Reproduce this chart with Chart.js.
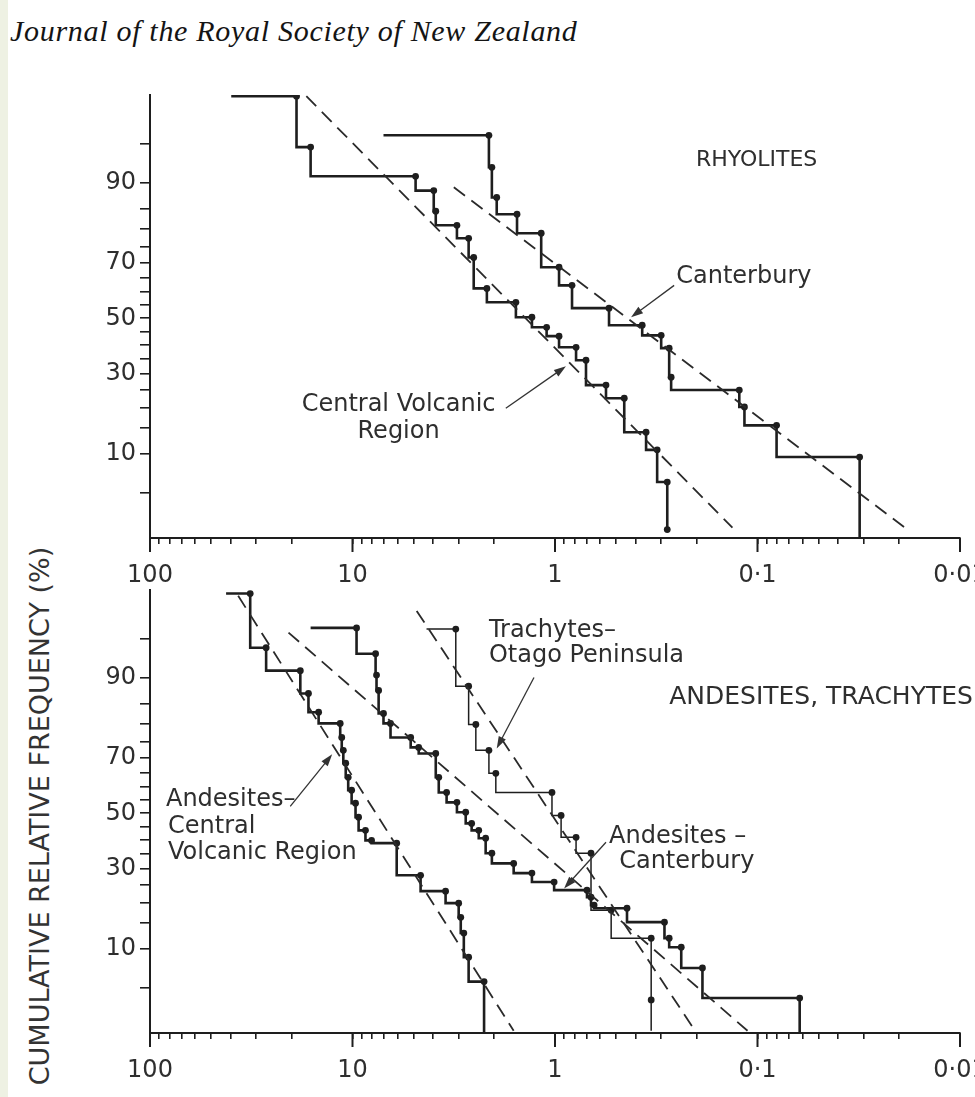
<!DOCTYPE html>
<html>
<head>
<meta charset="utf-8">
<script src="https://cdn.jsdelivr.net/npm/chart.js@4.4.1/dist/chart.umd.min.js"></script>
<style>
html, body { margin: 0; padding: 0; background: #fff; overflow: hidden; width: 975px; height: 1097px; }
#edge { position: absolute; left: 0; top: 0; width: 8px; height: 1097px; background: #eef1e3; }
#journal { position: absolute; left: 10px; top: 14px; font: italic 30px "Liberation Serif", serif; color: #141414; white-space: nowrap; letter-spacing: 0.7px; }
#ytitle { position: absolute; left: 39px; top: 816px; transform: translate(-50%, -50%) rotate(-90deg); font: 27px "DejaVu Sans", sans-serif; color: #333; white-space: nowrap; }
canvas { position: absolute; left: 0; }
</style>
</head>
<body>
<div id="edge"></div>
<div id="journal">Journal of the Royal Society of New Zealand</div>
<div id="ytitle">CUMULATIVE RELATIVE FREQUENCY (%)</div>
<canvas id="rhyChart" width="1010" height="590" style="top:0px"></canvas>
<canvas id="andChart" width="1010" height="590" style="top:495px"></canvas>
<script>
// --- data (size on log axis, cumulative % on probability axis) ---
// Rhyolites, Central Volcanic Region
var rhyCvrSize = [39.7, 18.9, 16.1, 4.88, 3.97, 3.88, 3.05, 2.67, 2.52, 2.17, 1.56, 1.30, 1.10, 0.955, 0.787, 0.703, 0.560, 0.455, 0.355, 0.313, 0.279, 0.279];
var rhyCvrPct  = [98.2, 98.2, 94.7, 91.0, 88.6, 84.4, 81.0, 77.5, 71.7, 61.1, 56.0, 50.4, 46.6, 43.3, 39.2, 34.6, 26.4, 22.5, 14.1, 10.7, 6.1, 2.3];
var rhyCvrFitSize = [16.9, 0.133];
var rhyCvrFitPct  = [98.2, 2.4];
// Rhyolites, Canterbury
var rhyCantSize = [7.03, 2.12, 2.05, 1.94, 1.54, 1.17, 0.955, 0.824, 0.541, 0.371, 0.299, 0.273, 0.267, 0.123, 0.116, 0.0805, 0.0313, 0.0313];
var rhyCantPct  = [95.8, 95.8, 92.3, 87.3, 83.7, 78.9, 68.5, 62.2, 53.8, 47.4, 43.6, 38.9, 28.9, 24.9, 20.1, 15.6, 9.5, 1.9];
var rhyCantFitSize = [3.16, 0.0187];
var rhyCantFitPct  = [89.2, 2.4];
// Andesites, Central Volcanic Region
var andCvrSize = [42.1, 32.0, 26.7, 18.1, 16.5, 14.7, 11.5, 11.3, 11.1, 10.8, 10.5, 10.1, 9.66, 9.33, 8.63, 8.05, 6.05, 4.61, 3.47, 2.99, 2.92, 2.82, 2.67, 2.24, 2.24];
var andCvrPct  = [98.1, 98.1, 94.1, 91.1, 87.1, 83.0, 80.2, 76.3, 72.4, 68.2, 63.3, 58.6, 53.8, 48.5, 43.6, 39.9, 38.9, 27.9, 23.1, 19.8, 16.3, 12.9, 8.7, 5.6, 1.9];
var andCvrFitSize = [36.7, 1.60];
var andCvrFitPct  = [98.0, 2.0];
// Andesites, Canterbury
var andCantSize = [16.1, 9.55, 7.69, 7.61, 7.43, 7.03, 6.49, 5.16, 4.71, 3.88, 3.75, 3.43, 3.05, 2.76, 2.58, 2.38, 2.20, 2.05, 1.60, 1.30, 1.01, 0.695, 0.664, 0.641, 0.441, 0.288, 0.273, 0.238, 0.187, 0.0619, 0.0619];
var andCantPct  = [96.0, 96.0, 93.4, 90.4, 87.7, 82.7, 80.2, 76.3, 73.3, 71.4, 63.3, 57.8, 54.1, 50.4, 46.2, 43.6, 40.7, 35.3, 31.8, 28.6, 25.8, 23.4, 21.4, 19.3, 18.5, 15.2, 11.9, 10.3, 7.2, 4.05, 1.9];
var andCantFitSize = [20.7, 0.112];
var andCantFitPct  = [95.6, 2.0];
// Trachytes, Otago Peninsula
var trachSize = [4.31, 3.09, 2.67, 2.46, 2.12, 1.96, 1.035, 0.933, 0.787, 0.664, 0.528, 0.335, 0.335, 0.335];
var trachPct  = [95.9, 95.9, 88.5, 79.9, 72.4, 64.7, 57.8, 49.2, 41.0, 35.3, 18.0, 11.9, 3.9, 2.0];
var trachFitSize = [4.82, 0.200];
var trachFitPct  = [97.2, 1.9];

// axes
var xMajor = [100, 10, 1, 0.1, 0.01];
var xMajorText = ['100', '10', '1', '0·1', '0·01'];
var xMinorSteps = [2, 3, 4, 5, 6, 7, 8, 9];
var yTickPct = [5, 10, 15, 20, 25, 30, 35, 40, 45, 50, 55, 60, 65, 70, 75, 80, 85, 90, 95];
var yLabelPct = [10, 30, 50, 70, 90];
var pctBottom = 1.9, pctTop = 98.25;

var ink = '#1e1e1e';
var textInk = '#2e2e2e';
var fontFamily = '"DejaVu Sans", sans-serif';

// inverse normal (probability paper)
function probit(p) {
    var a = [-3.969683028665376e+01, 2.209460984245205e+02, -2.759285104469687e+02, 1.383577518672690e+02, -3.066479806614716e+01, 2.506628277459239e+00];
    var b = [-5.447609879822406e+01, 1.615858368580409e+02, -1.556989798598866e+02, 6.680131188771972e+01, -1.328068155288572e+01];
    var c = [-7.784894002430293e-03, -3.223964580411365e-01, -2.400758277161838e+00, -2.549732539343734e+00, 4.374664141464968e+00, 2.938163982698783e+00];
    var d = [7.784695709041462e-03, 3.224671290700398e-01, 2.445134137142996e+00, 3.754408661907416e+00];
    var q, r;
    if (p < 0.02425) {
        q = Math.sqrt(-2 * Math.log(p));
        return (((((c[0]*q+c[1])*q+c[2])*q+c[3])*q+c[4])*q+c[5]) / ((((d[0]*q+d[1])*q+d[2])*q+d[3])*q+1);
    }
    if (p > 1 - 0.02425) {
        q = Math.sqrt(-2 * Math.log(1 - p));
        return -(((((c[0]*q+c[1])*q+c[2])*q+c[3])*q+c[4])*q+c[5]) / ((((d[0]*q+d[1])*q+d[2])*q+d[3])*q+1);
    }
    q = p - 0.5; r = q * q;
    return (((((a[0]*r+a[1])*r+a[2])*r+a[3])*r+a[4])*r+a[5])*q / (((((b[0]*r+b[1])*r+b[2])*r+b[3])*r+b[4])*r+1);
}

var xTickValues = [];
var xTickText = [];
xMajor.forEach(function (v, k) {
    xTickValues.push(v); xTickText.push(xMajorText[k]);
    if (k < xMajor.length - 1) {
        xMinorSteps.slice().reverse().forEach(function (m) {
            xTickValues.push(m * v / 10); xTickText.push('');
        });
    }
});

function stepSet(size, pct, width, endDot) {
    var n = size.length;
    return {
        data: size.map(function (s, i) { return {x: s, y: probit(pct[i] / 100)}; }),
        showLine: true,
        stepped: 'after',
        borderColor: ink,
        borderWidth: width,
        pointRadius: function (c) { return (c.dataIndex === 0 || (c.dataIndex === n - 1 && !endDot)) ? 0 : 3.4; },
        pointBackgroundColor: ink,
        pointBorderWidth: 0
    };
}
function fitSet(size, pct) {
    return {
        data: size.map(function (s, i) { return {x: s, y: probit(pct[i] / 100)}; }),
        showLine: true,
        borderColor: '#2a2a2a',
        borderWidth: 1.8,
        borderDash: [14, 8],
        pointRadius: 0
    };
}

// longer ticks on the decades
var decadeTicks = {
    id: 'decadeTicks',
    afterDraw: function (chart) {
        var xs = chart.scales.x, ctx = chart.ctx;
        ctx.save();
        ctx.strokeStyle = ink; ctx.lineWidth = 2;
        xMajor.forEach(function (v) {
            var px = xs.getPixelForValue(v);
            ctx.beginPath(); ctx.moveTo(px, xs.top); ctx.lineTo(px, xs.top + 14); ctx.stroke();
        });
        ctx.restore();
    }
};

// labels and arrows placed in data units
var notes = {
    id: 'notes',
    afterDatasetsDraw: function (chart, args, opts) {
        var xs = chart.scales.x, ys = chart.scales.y, ctx = chart.ctx;
        var px = function (v) { return xs.getPixelForValue(v); };
        var py = function (p) { return ys.getPixelForValue(probit(p / 100)); };
        ctx.save();
        ctx.fillStyle = textInk;
        ctx.textBaseline = 'middle';
        (opts.texts || []).forEach(function (t) {
            ctx.font = (t.size || 24) + 'px ' + fontFamily;
            ctx.textAlign = t.align || 'left';
            ctx.fillText(t.text, px(t.x), py(t.p));
        });
        ctx.strokeStyle = '#333'; ctx.fillStyle = '#333'; ctx.lineWidth = 1.3;
        (opts.arrows || []).forEach(function (a) {
            var x0 = px(a.from[0]), y0 = py(a.from[1]), x1 = px(a.to[0]), y1 = py(a.to[1]);
            var ang = Math.atan2(y1 - y0, x1 - x0);
            ctx.beginPath(); ctx.moveTo(x0, y0); ctx.lineTo(x1 - 8 * Math.cos(ang), y1 - 8 * Math.sin(ang)); ctx.stroke();
            ctx.beginPath();
            ctx.moveTo(x1, y1);
            ctx.lineTo(x1 - 12 * Math.cos(ang) + 4 * Math.sin(ang), y1 - 12 * Math.sin(ang) - 4 * Math.cos(ang));
            ctx.lineTo(x1 - 12 * Math.cos(ang) - 4 * Math.sin(ang), y1 - 12 * Math.sin(ang) + 4 * Math.cos(ang));
            ctx.closePath(); ctx.fill();
        });
        ctx.restore();
    }
};

function makeConfig(datasets, noteOpts) {
    return {
        type: 'scatter',
        data: { datasets: datasets },
        plugins: [decadeTicks, notes],
        options: {
            responsive: false,
            animation: false,
            events: [],
            layout: { padding: { top: 95, right: 50, left: 0, bottom: 0 } },
            plugins: {
                legend: { display: false },
                tooltip: { enabled: false },
                notes: noteOpts
            },
            scales: {
                x: {
                    type: 'logarithmic',
                    reverse: true,
                    min: 0.01,
                    max: 100,
                    afterBuildTicks: function (s) { s.ticks = xTickValues.map(function (v) { return {value: v}; }); },
                    afterFit: function (s) { s.height = 52; },
                    grid: { drawOnChartArea: false, drawTicks: true, tickLength: 6, color: ink, lineWidth: 1.6 },
                    border: { display: true, color: ink, width: 2 },
                    ticks: {
                        autoSkip: false, maxRotation: 0, padding: 17, color: textInk,
                        font: { family: fontFamily, size: 24 },
                        callback: function (v, i) { return xTickText[i]; }
                    }
                },
                y: {
                    type: 'linear',
                    min: probit(pctBottom / 100),
                    max: probit(pctTop / 100),
                    afterBuildTicks: function (s) { s.ticks = yTickPct.map(function (p) { return {value: probit(p / 100)}; }); },
                    afterFit: function (s) { s.width = 150; },
                    grid: { drawOnChartArea: false, drawTicks: true, tickLength: 10, color: ink, lineWidth: 1.6 },
                    border: { display: true, color: ink, width: 2 },
                    ticks: {
                        autoSkip: false, padding: 4, color: textInk,
                        font: { family: fontFamily, size: 24 },
                        callback: function (v, i) { return yLabelPct.indexOf(yTickPct[i]) >= 0 ? String(yTickPct[i]) : ''; }
                    }
                }
            }
        }
    };
}

var rhyConfig = makeConfig([
    fitSet(rhyCvrFitSize, rhyCvrFitPct),
    fitSet(rhyCantFitSize, rhyCantFitPct),
    stepSet(rhyCvrSize, rhyCvrPct, 2.6, true),
    stepSet(rhyCantSize, rhyCantPct, 2.6, false)
], {
    texts: [
        { x: 0.101, p: 93.2, text: 'RHYOLITES', align: 'center', size: 22 },
        { x: 0.252, p: 65.1, text: 'Canterbury' },
        { x: 5.92, p: 20.6, text: 'Central Volcanic', align: 'center' },
        { x: 5.92, p: 14.1, text: 'Region', align: 'center' }
    ],
    arrows: [
        { from: [0.258, 62.2], to: [0.421, 50.4] },
        { from: [1.75, 19.8], to: [0.883, 32.5] }
    ]
});

var andConfig = makeConfig([
    fitSet(andCvrFitSize, andCvrFitPct),
    fitSet(andCantFitSize, andCantFitPct),
    fitSet(trachFitSize, trachFitPct),
    stepSet(andCvrSize, andCvrPct, 2.6, false),
    stepSet(andCantSize, andCantPct, 2.6, false),
    stepSet(trachSize, trachPct, 1.5, false)
], {
    texts: [
        { x: 2.12, p: 95.8, text: 'Trachytes–' },
        { x: 2.12, p: 93.1, text: 'Otago Peninsula' },
        { x: 0.273, p: 86.3, text: 'ANDESITES, TRACHYTES', size: 25 },
        { x: 0.541, p: 41.4, text: 'Andesites –' },
        { x: 0.482, p: 32.2, text: 'Canterbury' },
        { x: 83.4, p: 54.9, text: 'Andesites–' },
        { x: 81.5, p: 45.1, text: 'Central' },
        { x: 81.5, p: 35.3, text: 'Volcanic Region' }
    ],
    arrows: [
        { from: [1.27, 90.0], to: [1.94, 73.0] },
        { from: [0.560, 39.2], to: [0.902, 23.9] },
        { from: [20.3, 52.6], to: [12.6, 71.1] }
    ]
});

window.rhyChart = new Chart(document.getElementById('rhyChart'), rhyConfig);
window.andChart = new Chart(document.getElementById('andChart'), andConfig);
</script>
</body>
</html>
